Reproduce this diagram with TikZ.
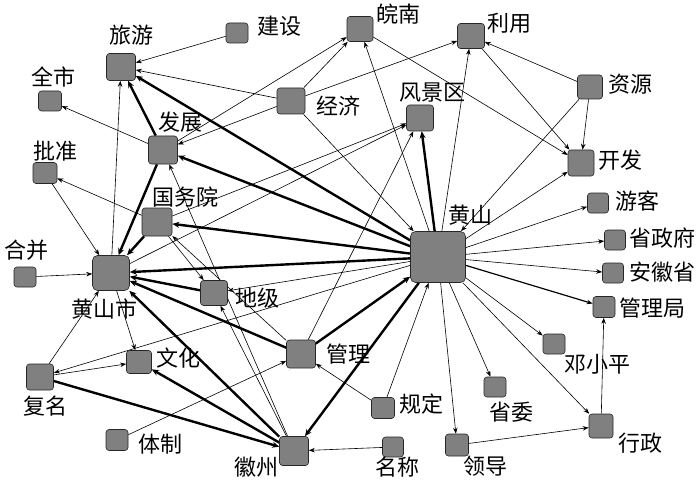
\documentclass[tikz,border=0pt]{standalone}
\usepackage{fontspec}
\newfontfamily\cjk{Noto Sans CJK SC}
\usetikzlibrary{arrows.meta,backgrounds}
\definecolor{boxfill}{RGB}{128,128,128}
\begin{document}
\begin{tikzpicture}[x=1pt,y=-1pt,
  box/.style={draw=black!85,line width=0.6pt,fill=boxfill,rounded corners=3pt,inner sep=0pt},
  sz/.style 2 args={minimum width=#1pt,minimum height=#2pt},
  lab/.style={font=\cjk\fontsize{22}{22}\selectfont,inner sep=0pt,text=black},
  tn/.style={line width=0.6pt,-{Stealth[length=6pt,width=4.5pt]}},
  md/.style={line width=1.2pt,-{Stealth[length=6pt,width=4.5pt]}},
  th/.style={line width=2.4pt,-{Stealth[length=7pt,width=6pt]}}]
\useasboundingbox (0,0) rectangle (700,481);
% boxes
\node[box,sz={29}{27}] (lvyou) at (121,67) {};
\node[box,sz={23}{20}] (quanshi) at (50,101) {};
\node[box,sz={29}{28}] (fazhan) at (163,150) {};
\node[box,sz={24}{21}] (pizhun) at (45,173) {};
\node[box,sz={22}{20}] (jianshe) at (237,33) {};
\node[box,sz={26}{25}] (wannan) at (360,29) {};
\node[box,sz={28}{26}] (jingji) at (291,101) {};
\node[box,sz={27}{26}] (fengjing) at (420,118) {};
\node[box,sz={27}{25}] (liyong) at (471,36) {};
\node[box,sz={25}{24}] (ziyuan) at (590,87) {};
\node[box,sz={26}{26}] (kaifa) at (581,163) {};
\node[box,sz={21}{20}] (youke) at (598,203) {};
\node[box,sz={21}{20}] (shengzf) at (615,240) {};
\node[box,sz={21}{20}] (anhui) at (613,273) {};
\node[box,sz={22}{21}] (guanlj) at (604,307) {};
\node[box,sz={55}{51},rounded corners=5pt] (hs) at (438,257) {};
\node[box,sz={30}{28}] (gwy) at (157,222) {};
\node[box,sz={22}{20}] (hebing) at (25,277) {};
\node[box,sz={37}{35},rounded corners=5pt] (hss) at (111,273) {};
\node[box,sz={27}{25}] (diji) at (214,293) {};
\node[box,sz={29}{28}] (guanli) at (301,354) {};
\node[box,sz={25}{23}] (wenhua) at (139,362) {};
\node[box,sz={27}{26}] (fuming) at (40,377) {};
\node[box,sz={22}{21}] (tizhi) at (117,440) {};
\node[box,sz={29}{29}] (huizhou) at (294,451) {};
\node[box,sz={23}{21}] (guiding) at (383,408) {};
\node[box,sz={21}{20}] (mingcheng) at (393,447) {};
\node[box,sz={22}{20}] (deng) at (554,344) {};
\node[box,sz={22}{20}] (shengwei) at (495,387) {};
\node[box,sz={23}{22}] (lingdao) at (457,445) {};
\node[box,sz={24}{24}] (xingzheng) at (601,426) {};
% labels
\node[lab] (t-lvyou) at (131,35) {旅游};
\node[lab] (t-quanshi) at (53,77) {全市};
\node[lab] (t-fazhan) at (180,122) {发展};
\node[lab] (t-pizhun) at (55,151) {批准};
\node[lab] (t-jianshe) at (279,26) {建设};
\node[lab] (t-wannan) at (398,14) {皖南};
\node[lab] (t-jingji) at (338,106) {经济};
\node[lab] (t-fengjing) at (432,93) {风景区};
\node[lab] (t-liyong) at (509,23) {利用};
\node[lab] (t-ziyuan) at (630,84) {资源};
\node[lab] (t-kaifa) at (620,160) {开发};
\node[lab] (t-youke) at (637,201) {游客};
\node[lab] (t-shengzf) at (662,238) {省政府};
\node[lab] (t-anhui) at (662,272) {安徽省};
\node[lab] (t-guanlj) at (652,308) {管理局};
\node[lab] (t-hs) at (470,215) {黄山};
\node[lab] (t-gwy) at (185,197) {国务院};
\node[lab] (t-hebing) at (27,250) {合并};
\node[lab] (t-hss) at (104,309) {黄山市};
\node[lab] (t-diji) at (257,298) {地级};
\node[lab] (t-guanli) at (348,354) {管理};
\node[lab] (t-wenhua) at (178,358) {文化};
\node[lab] (t-fuming) at (45,406) {复名};
\node[lab] (t-tizhi) at (160,444) {体制};
\node[lab] (t-huizhou) at (256,467) {徽州};
\node[lab] (t-guiding) at (421,404) {规定};
\node[lab] (t-mingcheng) at (397,467) {名称};
\node[lab] (t-deng) at (597,364) {邓小平};
\node[lab] (t-shengwei) at (511,412) {省委};
\node[lab] (t-lingdao) at (485,466) {领导};
\node[lab] (t-xingzheng) at (640,443) {行政};
\begin{scope}[on background layer]
\fill[white] (0,0) rectangle (700,481);
% thick
\draw[th] (hs) -- (lvyou);
\draw[th] (hs) -- (fazhan);
\draw[th] (hs) -- (gwy);
\draw[th] (hs) -- (hss);
\draw[th] (hs) -- (fengjing);
\draw[th] (hs) -- (huizhou);
\draw[th] (guanli) -- (hs);
\draw[th] (fazhan) -- (lvyou);
\draw[th] (fazhan) -- (hss);
\draw[th] (gwy) -- (hss);
\draw[th] (diji) -- (hss);
\draw[th] (guanli) -- (hss);
\draw[th] (huizhou) -- (hss);
\draw[th] (huizhou) -- (wenhua);
\draw[th] (fuming) -- (huizhou);
\draw[md] (hs) -- (guanlj);
% thin
\draw[tn] (jianshe) -- (lvyou);
\draw[tn] (jingji) -- (lvyou);
\draw[tn] (hss) -- (lvyou);
\draw[tn] (fazhan) -- (quanshi);
\draw[tn] (gwy) -- (pizhun);
\draw[tn] (pizhun) -- (hss);
\draw[tn] (jingji) -- (fazhan);
\draw[tn] (fazhan) -- (wannan);
\draw[tn] (jingji) -- (wannan);
\draw[tn] (jingji) -- (liyong);
\draw[tn] (jingji) -- (hs);
\draw[tn] (hs) -- (wannan);
\draw[tn] (wannan) -- (kaifa);
\draw[tn] (hs) -- (liyong);
\draw[tn] (ziyuan) -- (liyong);
\draw[tn] (ziyuan) -- (kaifa);
\draw[tn] (liyong) -- (kaifa);
\draw[tn] (ziyuan) -- (hs);
\draw[tn] (hs) -- (kaifa);
\draw[tn] (hs) -- (youke);
\draw[tn] (hs) -- (shengzf);
\draw[tn] (hs) -- (anhui);
\draw[tn] (hs) -- (deng);
\draw[tn] (hs) -- (shengwei);
\draw[tn] (hs) -- (lingdao);
\draw[tn] (hs) -- (xingzheng);
\draw[tn] (lingdao) -- (xingzheng);
\draw[tn] (xingzheng) -- (guanlj);
\draw[tn] (guiding) -- (hs);
\draw[tn] (guiding) -- (guanli);
\draw[tn] (mingcheng) -- (huizhou);
\draw[tn] (guanli) -- (fengjing);
\draw[tn] (gwy) -- (fengjing);
\draw[tn] (hss) -- (fengjing);
\draw[tn] (gwy) -- (diji);
\draw[tn] (guanli) -- (gwy);
\draw[tn] (huizhou) -- (fazhan);
\draw[tn] (huizhou) -- (diji);
\draw[tn] (hs) -- (diji);
\draw[tn] (hs) -- (fuming);
\draw[tn] (fuming) -- (wenhua);
\draw[tn] (fuming) -- (hss);
\draw[tn] (hss) -- (wenhua);
\draw[tn] (tizhi) -- (guanli);
\draw[tn] (hebing) -- (hss);
\end{scope}
\end{tikzpicture}
\end{document}
